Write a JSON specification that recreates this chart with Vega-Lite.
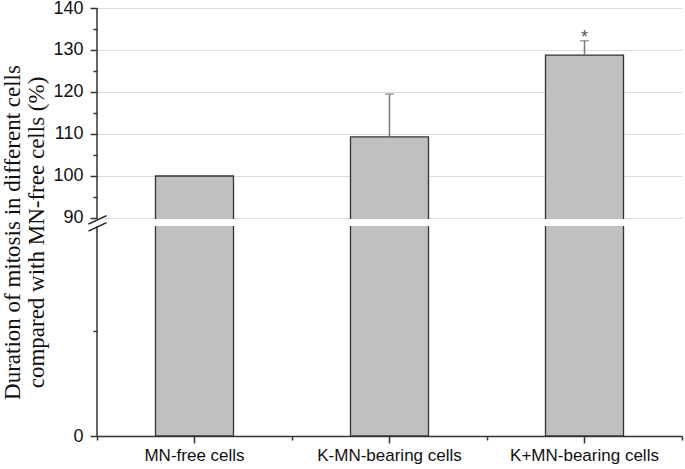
{
  "$schema": "https://vega.github.io/schema/vega-lite/v6.json",
  "autosize": "none",
  "width": 585,
  "height": 428,
  "padding": {"left": 97, "top": 8, "right": 3, "bottom": 33},
  "background": "white",
  "config": {"view": {"stroke": null}},
  "data": {"values": [
    {"cat": "MN-free cells", "mean": 100, "upper": null, "sig": ""},
    {"cat": "K-MN-bearing cells", "mean": 109.3, "upper": 119.5, "sig": ""},
    {"cat": "K+MN-bearing cells", "mean": 128.8, "upper": 132.2, "sig": "*"}
  ]},
  "resolve": {"axis": {"x": "independent", "y": "independent"}},
  "layer": [
    {
      "mark": {"type": "bar", "fill": "#c0c0c0", "stroke": "#333333", "strokeWidth": 1.3, "width": {"band": 0.4}},
      "encoding": {
        "x": {"field": "cat", "type": "nominal", "sort": null,
          "scale": {"paddingInner": 0, "paddingOuter": 0},
          "axis": {"title": null, "labelAngle": 0, "labelFont": "Liberation Sans", "labelFontSize": 17, "labelColor": "#111111",
            "labelPadding": 4, "tickSize": 7, "tickWidth": 1.5, "tickColor": "#333333",
            "domain": true, "domainColor": "#333333", "domainWidth": 1.5}},
        "y": {"field": "mean", "type": "quantitative",
          "scale": {"domain": [0, 88, 89.76, 140], "range": [428, 218, 211, 0], "zero": false, "nice": false},
          "axis": {"values": [0, 90, 100, 110, 120, 130, 140], "domain": false, "tickSize": 7, "tickWidth": 1.5, "tickColor": "#333333",
            "labelFont": "Liberation Sans", "labelFontSize": 18, "labelColor": "#111111", "labelPadding": 7,
            "title": ["Duration of mitosis in different cells", "compared with MN-free cells (%)"],
            "titleFont": "Liberation Serif", "titleFontSize": 23, "titleFontWeight": "normal", "titleColor": "#111111",
            "titleLineHeight": 24, "titlePadding": 4, "titleY": 224}},
        "y2": {"datum": 0}
      }
    },
    {
      "transform": [{"filter": "datum.upper != null"}],
      "mark": {"type": "rule", "color": "#7a7a7a", "strokeWidth": 1.5},
      "encoding": {
        "x": {"field": "cat", "type": "nominal", "sort": null,
          "axis": {"orient": "bottom", "title": null, "labels": false, "domain": false, "tickBand": "extent",
            "tickSize": 4, "tickWidth": 1.5, "tickColor": "#333333"}},
        "y": {"field": "mean", "type": "quantitative",
          "axis": {"orient": "left", "values": [44, 95, 105, 115, 125, 135], "labels": false, "domain": false, "title": null,
            "tickSize": 4, "tickWidth": 1.5, "tickColor": "#333333"}},
        "y2": {"field": "upper"}
      }
    },
    {
      "transform": [{"filter": "datum.upper != null"}],
      "mark": {"type": "tick", "color": "#7a7a7a", "size": 9, "thickness": 1.5},
      "encoding": {
        "x": {"field": "cat", "type": "nominal", "sort": null, "axis": null},
        "y": {"field": "upper", "type": "quantitative", "axis": null}
      }
    },
    {
      "transform": [{"filter": "datum.upper != null"}],
      "mark": {"type": "text", "font": "Liberation Sans", "fontSize": 18, "color": "#555555", "baseline": "alphabetic", "align": "center", "dy": 2},
      "encoding": {
        "x": {"field": "cat", "type": "nominal", "sort": null, "axis": null},
        "y": {"field": "upper", "type": "quantitative", "axis": null},
        "text": {"field": "sig", "type": "nominal"}
      }
    },
    {
      "mark": {"type": "bar", "fill": "white", "width": {"band": 0.43}},
      "encoding": {
        "x": {"field": "cat", "type": "nominal", "sort": null, "axis": null},
        "y": {"datum": 89.76, "type": "quantitative", "axis": null},
        "y2": {"datum": 88}
      }
    },
    {
      "transform": [{"filter": "datum.cat == 'MN-free cells'"}],
      "mark": {"type": "rule", "color": "#333333", "strokeWidth": 1.5},
      "encoding": {
        "x": {"field": "cat", "type": "nominal", "sort": null, "bandPosition": 0, "axis": null},
        "y": {"datum": 88, "type": "quantitative", "axis": null},
        "y2": {"datum": 0}
      }
    },
    {
      "transform": [{"filter": "datum.cat == 'MN-free cells'"}],
      "mark": {"type": "rule", "color": "#333333", "strokeWidth": 1.5},
      "encoding": {
        "x": {"field": "cat", "type": "nominal", "sort": null, "bandPosition": 0, "axis": null},
        "y": {"datum": 140, "type": "quantitative", "axis": null},
        "y2": {"datum": 89.76}
      }
    },
    {
      "transform": [{"filter": "datum.cat == 'MN-free cells'"}],
      "mark": {"type": "text", "text": "—", "font": "Liberation Sans", "fontSize": 20, "color": "#222222", "angle": 335, "align": "center", "baseline": "middle"},
      "encoding": {
        "x": {"field": "cat", "type": "nominal", "sort": null, "bandPosition": 0, "axis": null},
        "y": {"datum": 89.76, "type": "quantitative", "axis": null}
      }
    },
    {
      "transform": [{"filter": "datum.cat == 'MN-free cells'"}],
      "mark": {"type": "text", "text": "—", "font": "Liberation Sans", "fontSize": 20, "color": "#222222", "angle": 335, "align": "center", "baseline": "middle"},
      "encoding": {
        "x": {"field": "cat", "type": "nominal", "sort": null, "bandPosition": 0, "axis": null},
        "y": {"datum": 88, "type": "quantitative", "axis": null}
      }
    }
  ]
}
